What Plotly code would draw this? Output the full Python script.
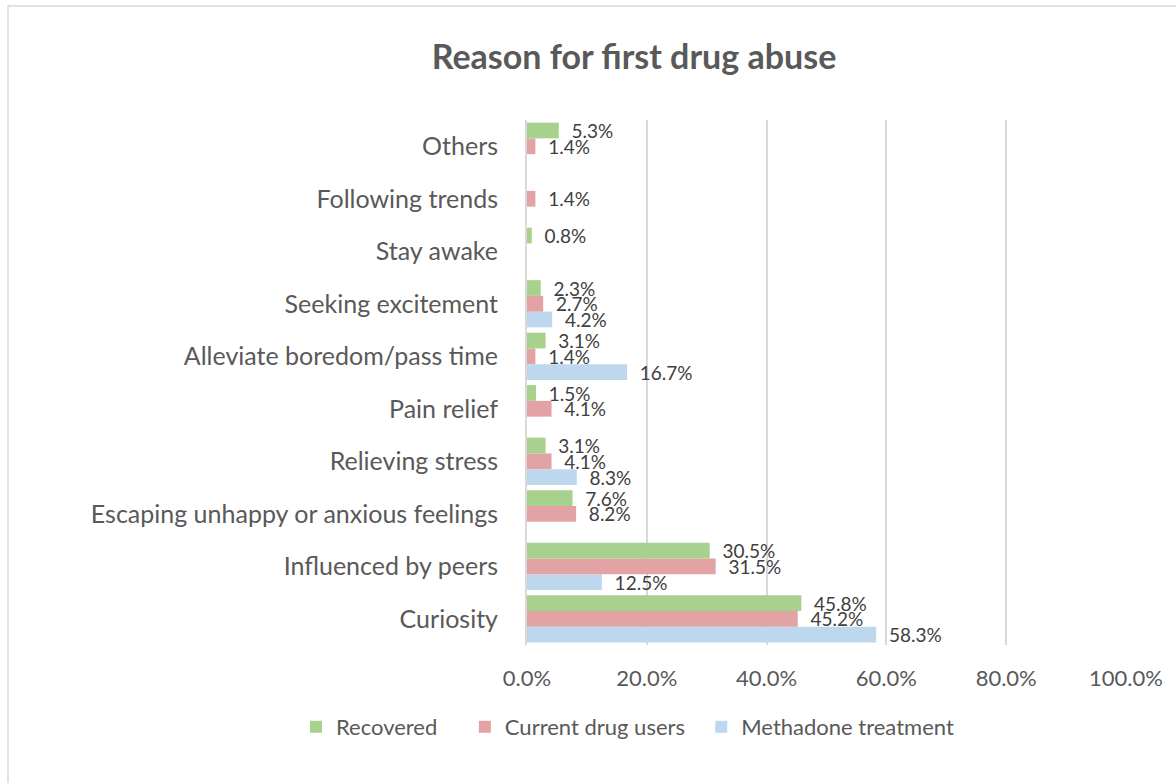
import plotly.graph_objects as go

# Survey responses: reason for first drug abuse (share of respondents, %)
reasons = [
    "Curiosity",
    "Influenced by peers",
    "Escaping unhappy or anxious feelings",
    "Relieving stress",
    "Pain relief",
    "Alleviate boredom/pass time",
    "Seeking excitement",
    "Stay awake",
    "Following trends",
    "Others",
]
recovered = [45.8, 30.5, 7.6, 3.1, 1.5, 3.1, 2.3, 0.8, None, 5.3]
current_users = [45.2, 31.5, 8.2, 4.1, 4.1, 1.4, 2.7, None, 1.4, 1.4]
methadone = [58.3, 12.5, None, 8.3, None, 16.7, 4.2, None, None, None]

x_ticks = [0, 20, 40, 60, 80, 100]

FONT = "Lato, Open Sans, sans-serif"
TEXT_GREY = "#595959"
LABEL_GREY = "#404040"
GRID = "#D9D9D9"
NBSP = "\u00a0"

# drawn bottom-to-top inside each group; legend order is reversed below
series = [
    ("Methadone treatment", methadone, "#BDD7EE", 0),
    ("Current drug users", current_users, "#E3A3A5", 2),
    ("Recovered", recovered, "#A9D18E", 4),
]

fig = go.Figure()
for name, values, color, pad in series:
    labels = [NBSP * 2 + "%.1f%%" % v if v is not None else "" for v in values]
    fig.add_trace(go.Bar(
        name=name + NBSP * pad,
        y=reasons,
        x=values,
        orientation="h",
        marker=dict(color=color, line=dict(width=0)),
        text=labels,
        textposition="outside",
        constraintext="none",
        textfont=dict(family=FONT, size=19, color=LABEL_GREY),
        cliponaxis=False,
        hoverinfo="skip",
    ))

# plot area: x 527..1126 px, y 120..645 px
ML, MR, MT, MB = 527, 50, 120, 138
W, H = 1176, 783
pw, ph = W - ML - MR, H - MT - MB


def px_x(v):
    return (v - ML) / pw


def px_y(v):
    return (H - MB - v) / ph


fig.update_layout(
    width=W,
    height=H,
    margin=dict(l=ML, r=MR, t=MT, b=MB, autoexpand=False),
    paper_bgcolor="white",
    plot_bgcolor="white",
    barmode="group",
    bargap=0.1,
    bargroupgap=0,
    font=dict(family=FONT, color=TEXT_GREY),
    title=dict(
        text="<b>Reason for first drug abuse</b>",
        x=px_x(634), xref="paper", xanchor="center",
        y=1 - 57 / H, yref="container", yanchor="middle",
        font=dict(family=FONT, size=34, color=TEXT_GREY),
    ),
    xaxis=dict(
        range=[0, 100],
        tickvals=x_ticks,
        ticktext=["%.1f%%" % t for t in x_ticks],
        showgrid=True,
        gridcolor=GRID,
        gridwidth=2,
        zeroline=False,
        showline=False,
        ticks="",
        ticklabelstandoff=18,
        tickfont=dict(family=FONT, size=22, color=TEXT_GREY),
        fixedrange=True,
    ),
    yaxis=dict(
        categoryorder="array",
        categoryarray=reasons,
        showgrid=False,
        showline=True,
        linecolor=GRID,
        linewidth=2,
        ticks="",
        ticklabelstandoff=22,
        tickfont=dict(family=FONT, size=25, color=TEXT_GREY),
        fixedrange=True,
    ),
    legend=dict(
        orientation="h",
        traceorder="reversed",
        x=px_x(296), xanchor="left",
        y=px_y(727), yanchor="middle",
        font=dict(family=FONT, size=22, color=TEXT_GREY),
        itemsizing="constant",
        itemwidth=30,
    ),
    shapes=[dict(
        type="rect", xref="paper", yref="paper",
        x0=px_x(8), x1=px_x(1190), y0=px_y(800), y1=px_y(6),
        line=dict(color=GRID, width=1.5), fillcolor="rgba(0,0,0,0)",
        layer="below",
    )],
    showlegend=True,
)

fig.write_html("out.html")
